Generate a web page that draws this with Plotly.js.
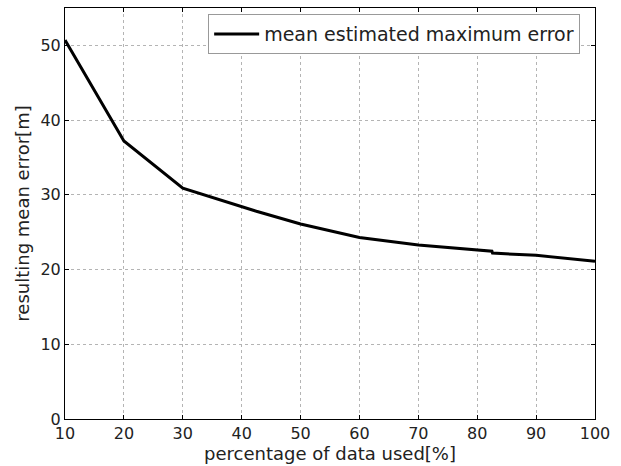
<!DOCTYPE html>
<html>
<head>
<meta charset="utf-8">
<script src="https://cdn.plot.ly/plotly-3.0.1.min.js"></script>
<style>html,body{margin:0;padding:0;background:#fff;}#chart{width:621px;height:466px;}</style>
</head>
<body>
<div id="chart"></div>
<script>
const percentUsed = [10, 20, 30, 40, 42.5, 50, 60, 70, 80, 82.5, 82.6, 90, 100];
const meanError = [50.7, 37.2, 30.9, 28.4, 27.8, 26.1, 24.3, 23.3, 22.6, 22.45, 22.2, 21.9, 21.1];
const xTicks = [10, 20, 30, 40, 50, 60, 70, 80, 90, 100];
const yTicks = [0, 10, 20, 30, 40, 50];
const seriesName = "mean estimated maximum error";

const font = "DejaVu Sans, sans-serif";
const trace = {
  x: percentUsed, y: meanError, type: "scatter", mode: "lines",
  name: seriesName, line: {color: "#000", width: 3}
};
const axisCommon = {
  showline: true, linecolor: "#000", linewidth: 1, mirror: "ticks",
  ticks: "inside", ticklen: 4, tickcolor: "#000",
  showgrid: true, gridcolor: "#b4b4b4", griddash: "dot", gridwidth: 1,
  zeroline: false, tickfont: {family: font, size: 16, color: "#222"}
};
const layout = {
  width: 621, height: 466,
  margin: {l: 65, r: 26, t: 8, b: 47},
  paper_bgcolor: "#fff", plot_bgcolor: "#fff",
  showlegend: true,
  legend: {x: 0.972, y: 0.985, xanchor: "right", yanchor: "top",
    bordercolor: "#999", borderwidth: 1, bgcolor: "#fff", itemwidth: 45,
    font: {family: font, size: 19, color: "#222"}},
  xaxis: Object.assign({}, axisCommon, {
    range: [10, 100], tickvals: xTicks, ticktext: xTicks.map(String),
    title: {text: "percentage of data used[%]", font: {family: font, size: 18, color: "#222"}, standoff: 2}
  }),
  yaxis: Object.assign({}, axisCommon, {
    range: [0, 55], tickvals: yTicks, ticktext: yTicks.map(String),
    title: {text: "resulting mean error[m]", font: {family: font, size: 18, color: "#222"}, standoff: 6}
  })
};
Plotly.newPlot("chart", [trace], layout, {displayModeBar: false, staticPlot: true});
</script>
</body>
</html>
